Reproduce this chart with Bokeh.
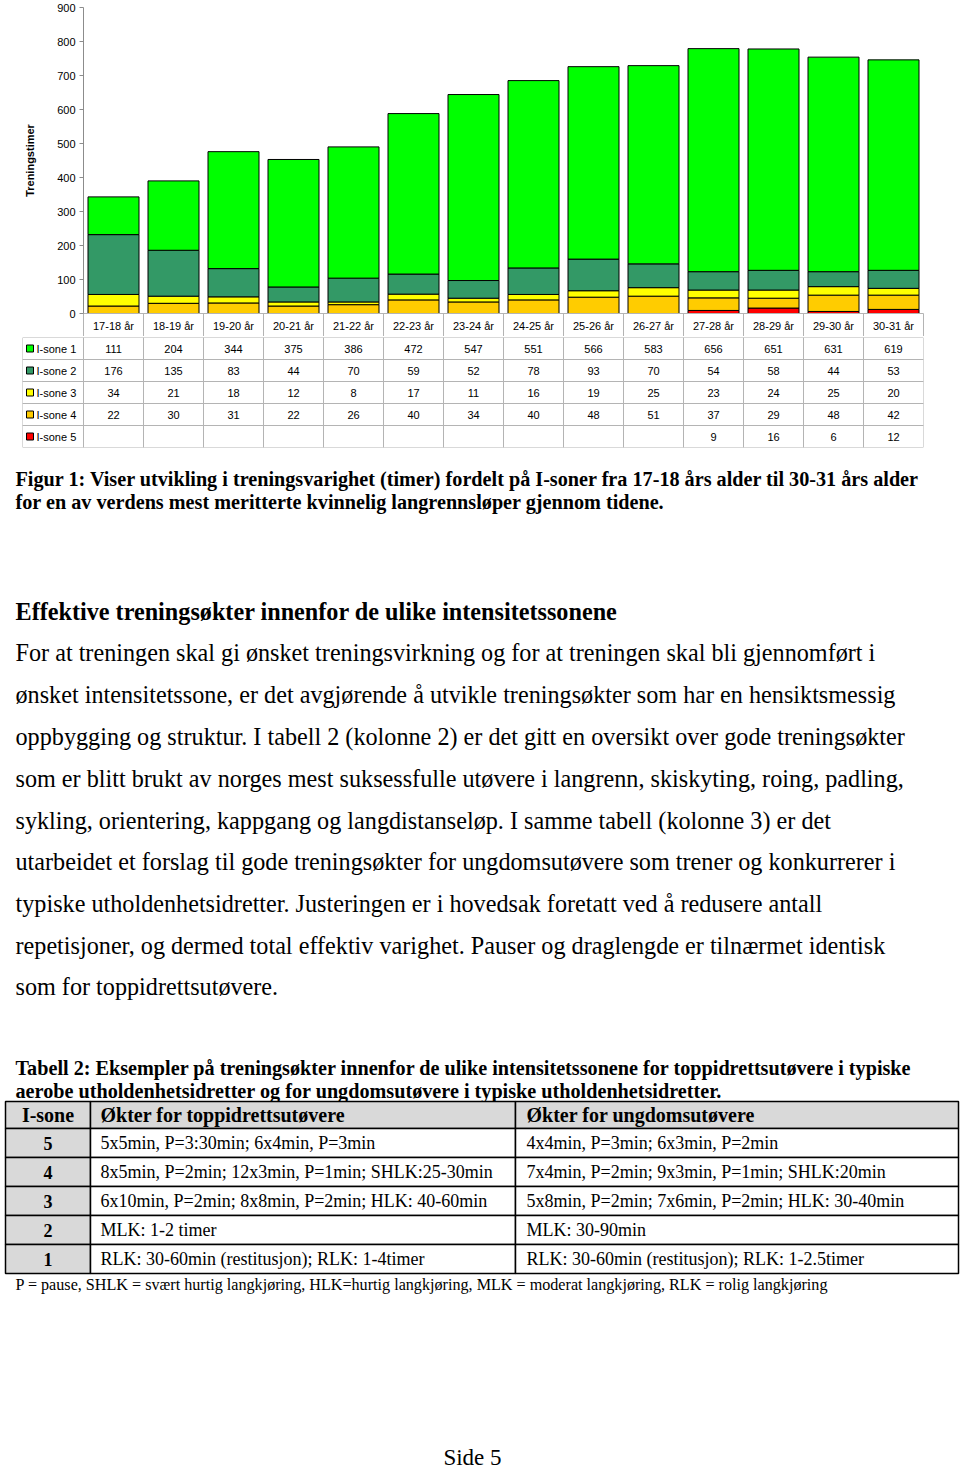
from bokeh.plotting import figure
from bokeh.layouts import column
from bokeh.models import ColumnDataSource, Range1d, FixedTicker, LinearAxis
from bokeh.embed import file_html
from bokeh.resources import INLINE
from bokeh.core.properties import value

# ---------------- data ----------------
categories = ["17-18 år", "18-19 år", "19-20 år", "20-21 år", "21-22 år", "22-23 år", "23-24 år",
              "24-25 år", "25-26 år", "26-27 år", "27-28 år", "28-29 år", "29-30 år", "30-31 år"]
isone1 = [111, 204, 344, 375, 386, 472, 547, 551, 566, 583, 656, 651, 631, 619]
isone2 = [176, 135, 83, 44, 70, 59, 52, 78, 93, 70, 54, 58, 44, 53]
isone3 = [34, 21, 18, 12, 8, 17, 11, 16, 19, 25, 23, 24, 25, 20]
isone4 = [22, 30, 31, 22, 26, 40, 34, 40, 48, 51, 37, 29, 48, 42]
isone5 = [None, None, None, None, None, None, None, None, None, None, 9, 16, 6, 12]
series_names = ["I-sone 1", "I-sone 2", "I-sone 3", "I-sone 4", "I-sone 5"]
series_colors = ["#00FF00", "#339966", "#FFFF00", "#FFCC00", "#FF0000"]
y_ticks = [0, 100, 200, 300, 400, 500, 600, 700, 800, 900]
y_axis_title = "Treningstimer"

caption_lines = [
    "Figur 1: Viser utvikling i treningsvarighet (timer) fordelt på I-soner fra 17-18 års alder til 30-31 års alder",
    "for en av verdens mest meritterte kvinnelig langrennsløper gjennom tidene.",
]
heading = "Effektive treningsøkter innenfor de ulike intensitetssonene"
body_lines = [
    "For at treningen skal gi ønsket treningsvirkning og for at treningen skal bli gjennomført i",
    "ønsket intensitetssone, er det avgjørende å utvikle treningsøkter som har en hensiktsmessig",
    "oppbygging og struktur. I tabell 2 (kolonne 2) er det gitt en oversikt over gode treningsøkter",
    "som er blitt brukt av norges mest suksessfulle utøvere i langrenn, skiskyting, roing, padling,",
    "sykling, orientering, kappgang og langdistanseløp. I samme tabell (kolonne 3) er det",
    "utarbeidet et forslag til gode treningsøkter for ungdomsutøvere som trener og konkurrerer i",
    "typiske utholdenhetsidretter. Justeringen er i hovedsak foretatt ved å redusere antall",
    "repetisjoner, og dermed total effektiv varighet. Pauser og draglengde er tilnærmet identisk",
    "som for toppidrettsutøvere.",
]
table_caption_lines = [
    "Tabell 2: Eksempler på treningsøkter innenfor de ulike intensitetssonene for toppidrettsutøvere i typiske",
    "aerobe utholdenhetsidretter og for ungdomsutøvere i typiske utholdenhetsidretter.",
]
table_headers = ["I-sone", "Økter for toppidrettsutøvere", "Økter for ungdomsutøvere"]
isone_levels = ["5", "4", "3", "2", "1"]
elite_sessions = [
    "5x5min, P=3:30min; 6x4min, P=3min",
    "8x5min, P=2min; 12x3min, P=1min; SHLK:25-30min",
    "6x10min, P=2min; 8x8min, P=2min; HLK: 40-60min",
    "MLK: 1-2 timer",
    "RLK: 30-60min (restitusjon); RLK: 1-4timer",
]
youth_sessions = [
    "4x4min, P=3min; 6x3min, P=2min",
    "7x4min, P=2min; 9x3min, P=1min; SHLK:20min",
    "5x8min, P=2min; 7x6min, P=2min; HLK: 30-40min",
    "MLK: 30-90min",
    "RLK: 30-60min (restitusjon); RLK: 1-2.5timer",
]
footnote = ("P = pause, SHLK = svært hurtig langkjøring, HLK=hurtig langkjøring, "
            "MLK = moderat langkjøring, RLK = rolig langkjøring")
page_footer = "Side 5"

SANS_NAME = "Liberation Sans"
SANS = value(SANS_NAME)
SERIF = value("Liberation Serif")
GRID = "#b4b4b4"
AXIS = "#8c8c8c"

# ---------------- chart ----------------
n = len(categories)
centers = [i + 0.5 for i in range(n)]
series = [isone1, isone2, isone3, isone4, isone5]
src = ColumnDataSource(dict(
    x=centers, cat=categories,
    s1=isone1, s2=isone2, s3=isone3, s4=isone4,
    s5=[v if v is not None else 0 for v in isone5],
))
chart = figure(width=960, height=336, x_range=Range1d(0, n), y_range=Range1d(0, 900),
               output_backend="svg", toolbar_location=None, x_axis_location=None,
               min_border_left=83, min_border_right=37, min_border_top=7, min_border_bottom=23)
chart.vbar_stack(["s5", "s4", "s3", "s2", "s1"], x="x", width=0.85, source=src,
                 fill_color=[series_colors[4], series_colors[3], series_colors[2],
                             series_colors[1], series_colors[0]],
                 line_color="black", line_width=1)
chart.grid.visible = False
chart.outline_line_color = None
chart.background_fill_color = "white"
chart.border_fill_color = "white"

ya = chart.yaxis[0]
ya.ticker = FixedTicker(ticks=y_ticks)
ya.minor_tick_line_color = None
ya.major_tick_in = 0
ya.major_tick_out = 4
ya.major_tick_line_color = AXIS
ya.axis_line_color = AXIS
ya.major_label_text_font = SANS_NAME
ya.major_label_text_font_size = "11px"
ya.major_label_text_color = "black"
ya.major_label_standoff = 4
ya.axis_label = y_axis_title
ya.axis_label_text_font = SANS_NAME
ya.axis_label_text_font_size = "11px"
ya.axis_label_text_font_style = "bold"
ya.axis_label_text_color = "black"
ya.axis_label_standoff = 18

# category row of the data table as the x axis (cell borders = minor ticks);
# the negative standoff brings the labels back up inside the 23 px tall row
xa = LinearAxis(ticker=FixedTicker(ticks=centers, minor_ticks=list(range(n + 1))),
                major_label_overrides={c: lab for c, lab in zip(centers, categories)},
                major_tick_in=0, major_tick_out=0,
                minor_tick_in=0, minor_tick_out=23, minor_tick_line_color=GRID,
                axis_line_color=GRID,
                major_label_text_font=SANS_NAME, major_label_text_font_size="11px",
                major_label_text_color="black", major_label_standoff=-17)
chart.add_layout(xa, "below")

# ---------------- data table ----------------
LEG_W = 61 / 60
tab = figure(width=960, height=114, x_range=Range1d(-LEG_W, n), y_range=Range1d(5, 0),
             output_backend="svg", toolbar_location=None, x_axis_location=None, y_axis_location=None,
             min_border_left=22, min_border_right=37, min_border_top=1, min_border_bottom=3)
tab.grid.visible = False
tab.outline_line_color = None
cx, cy, ct = [], [], []
for r, vals in enumerate(series):
    for i, v in enumerate(vals):
        cx.append(i + 0.5)
        cy.append(r + 0.5)
        ct.append("" if v is None else str(v))
rows = [r + 0.5 for r in range(len(series))]
tab.rect(x=cx, y=cy, width=1, height=1, fill_color=None, line_color=GRID, line_width=1)
tab.rect(x=[-LEG_W / 2] * len(rows), y=rows, width=LEG_W, height=1, fill_color=None,
         line_color=GRID, line_width=1)
tab.text(x=cx, y=cy, text=ct, text_align="center", text_baseline="middle",
         text_font=SANS, text_font_size="11px", text_color="black")
tab.scatter(x=[-LEG_W + 7.5 / 60] * len(rows), y=rows, marker="square", size=7,
            fill_color=series_colors, line_color="black", line_width=1)
tab.text(x=[-LEG_W + 14 / 60] * len(rows), y=rows, text=series_names, text_align="left",
         text_baseline="middle", text_font=SANS, text_font_size="11px", text_color="black")

# ---------------- text page ----------------
TOP = 450
pg = figure(width=960, height=1471 - TOP, x_range=Range1d(0, 960), y_range=Range1d(1471, TOP),
            output_backend="svg", toolbar_location=None, x_axis_location=None, y_axis_location=None,
            min_border=0)
pg.grid.visible = False
pg.outline_line_color = None

def txt(xs, ys, texts, size, bold=False, align="left"):
    pg.text(x=xs, y=ys, text=texts, text_font=SERIF, text_font_size=size,
            text_font_style="bold" if bold else "normal", text_align=align,
            text_baseline="middle", text_color="black")

txt([15, 15], [478, 501], caption_lines, "20.2px", bold=True)
txt([15], [611], [heading], "24.2px", bold=True)
body_y = [652, 694, 736, 778, 819.5, 861, 903, 944.5, 986]
txt([15] * len(body_lines), body_y, body_lines, "24.2px")
txt([15, 15], [1067, 1090], table_caption_lines, "20.2px", bold=True)

# table 2
col_edges = [5, 90, 515, 958]
row_edges = [1101, 1128, 1157, 1186, 1215, 1244, 1273]
GRAY = "#d9d9d9"
ql, qr, qt, qb, qf = [], [], [], [], []
for r in range(len(row_edges) - 1):
    for c in range(len(col_edges) - 1):
        ql.append(col_edges[c]); qr.append(col_edges[c + 1])
        qt.append(row_edges[r]); qb.append(row_edges[r + 1])
        qf.append(GRAY if (r == 0 or c == 0) else "white")
pg.quad(left=ql, right=qr, top=qt, bottom=qb, fill_color=qf, line_color="black", line_width=1.5)
row_mid = [(row_edges[k] + row_edges[k + 1]) / 2 for k in range(len(row_edges) - 1)]
txt([(col_edges[0] + col_edges[1]) / 2], [row_mid[0]], [table_headers[0]], "20px", bold=True, align="center")
txt([100, 526], [row_mid[0]] * 2, table_headers[1:], "20px", bold=True)
txt([(col_edges[0] + col_edges[1]) / 2] * 5, row_mid[1:], isone_levels, "18px", bold=True, align="center")
txt([100] * 5, row_mid[1:], elite_sessions, "18px")
txt([526] * 5, row_mid[1:], youth_sessions, "18px")
txt([15], [1284], [footnote], "16.15px")
txt([472], [1457], [page_footer], "23px", align="center")

# each figure in its own container so that their frames are not aligned to each other
layout = column(column(chart), column(tab), column(pg), spacing=0)
open("out.html", "w").write(file_html(layout, INLINE))
